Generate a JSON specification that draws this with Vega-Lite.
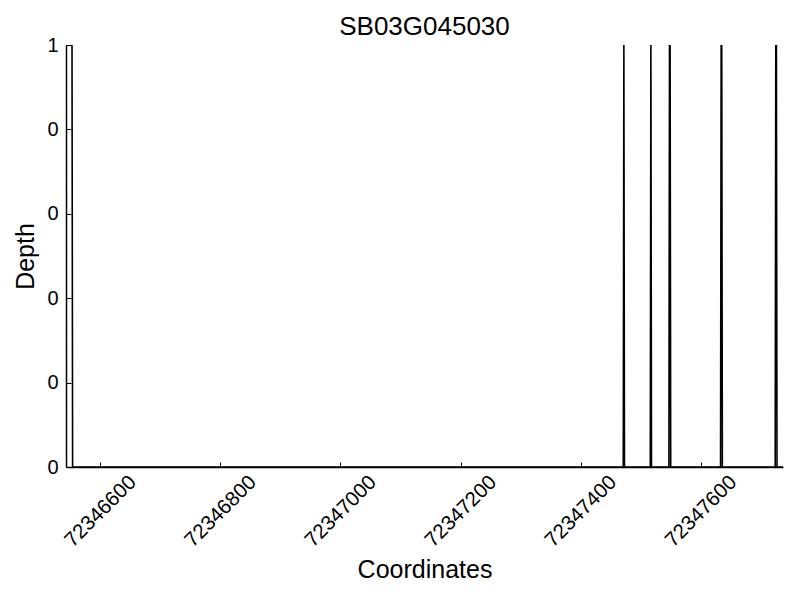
{
  "$schema": "https://vega.github.io/schema/vega-lite/v6.json",
  "width": 717,
  "height": 422,
  "autosize": {"type": "none"},
  "padding": {"left": 66, "top": 45, "right": 17, "bottom": 133},
  "background": "white",
  "config": {
    "font": "Liberation Sans",
    "view": {"stroke": null},
    "axis": {"grid": false, "domainColor": "black", "domainWidth": 1.5, "tickColor": "black", "tickWidth": 1, "labelColor": "black", "titleColor": "black", "labelFont": "Liberation Sans", "titleFont": "Liberation Sans", "titleFontWeight": "normal"}
  },
  "title": {"text": "SB03G045030", "fontSize": 26, "fontWeight": "normal", "font": "Liberation Sans", "color": "black", "offset": 8, "baseline": "alphabetic", "anchor": "middle", "dy": 34},
  "data": {
    "values": [
      {"coord": 72346543, "depth": 1},
      {"coord": 72346553, "depth": 1},
      {"coord": 72346554, "depth": 0},
      {"coord": 72347471, "depth": 0},
      {"coord": 72347472, "depth": 1},
      {"coord": 72347473, "depth": 0},
      {"coord": 72347516, "depth": 0},
      {"coord": 72347517, "depth": 1},
      {"coord": 72347518, "depth": 0},
      {"coord": 72347547, "depth": 0},
      {"coord": 72347548, "depth": 1},
      {"coord": 72347549, "depth": 1},
      {"coord": 72347550, "depth": 0},
      {"coord": 72347633, "depth": 0},
      {"coord": 72347634, "depth": 1},
      {"coord": 72347635, "depth": 1},
      {"coord": 72347636, "depth": 0},
      {"coord": 72347724, "depth": 0},
      {"coord": 72347725, "depth": 1},
      {"coord": 72347726, "depth": 1},
      {"coord": 72347727, "depth": 0},
      {"coord": 72347737, "depth": 0}
    ]
  },
  "mark": {"type": "line", "color": "black", "strokeWidth": 1.6, "clip": true, "interpolate": "linear"},
  "encoding": {
    "x": {
      "field": "coord", "type": "quantitative", "title": "Coordinates",
      "scale": {"domain": [72346543, 72347737], "nice": false, "zero": false},
      "axis": {"values": [72346600, 72346800, 72347000, 72347200, 72347400, 72347600], "format": "d", "labelAngle": -45, "labelAlign": "center", "labelBaseline": "middle", "labelFontSize": 20.5, "labelPadding": 49, "tickSize": -5, "titleFontSize": 25, "titleY": 110, "titleBaseline": "alphabetic"}
    },
    "y": {
      "field": "depth", "type": "quantitative", "title": "Depth",
      "scale": {"domain": [0, 1], "nice": false},
      "axis": {"values": [0, 0.2, 0.4, 0.6, 0.8, 1], "labelExpr": "floor(datum.value)", "labelFontSize": 20, "labelPadding": 13, "tickSize": -5, "titleFontSize": 25, "titleX": -33, "titleY": 211, "titleBaseline": "alphabetic", "labelBaseline": "middle"}
    }
  }
}
